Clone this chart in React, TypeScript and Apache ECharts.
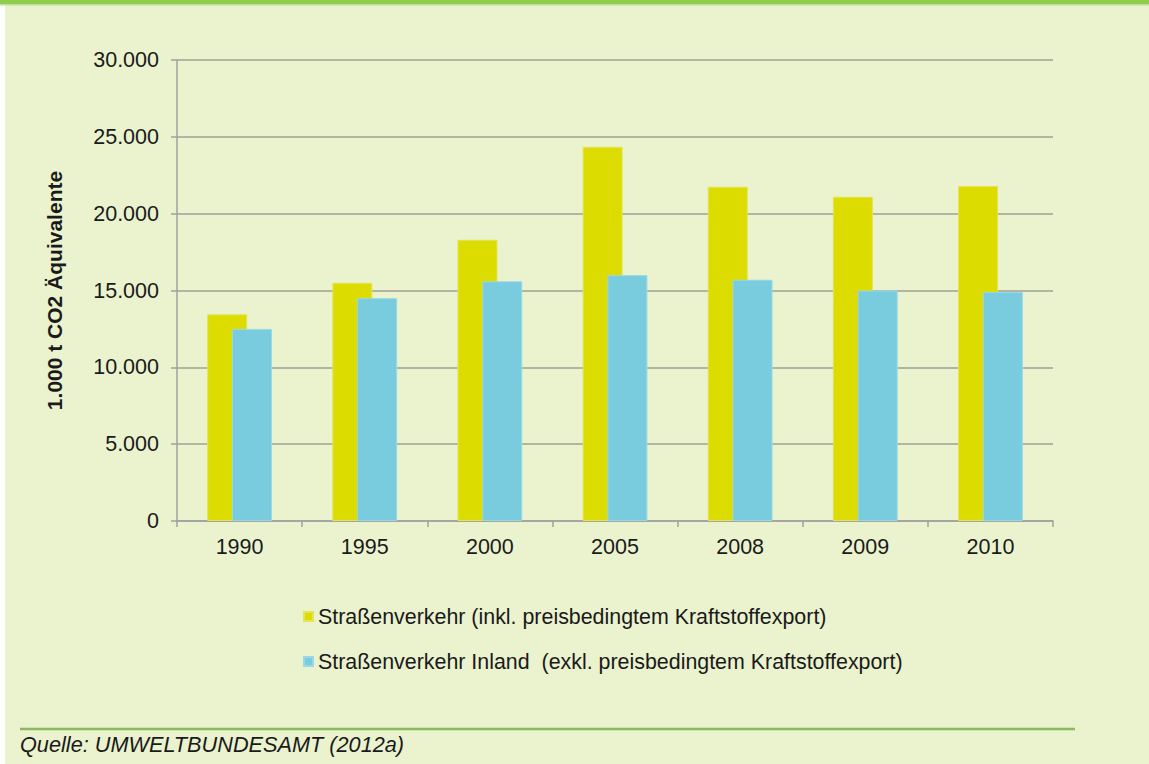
import React, { useEffect, useRef } from "react";
import * as echarts from "echarts";

const categories = ["1990", "1995", "2000", "2005", "2008", "2009", "2010"];
const seriesNames = [
  "Straßenverkehr (inkl. preisbedingtem Kraftstoffexport)",
  "Straßenverkehr Inland  (exkl. preisbedingtem Kraftstoffexport)",
];
const inklExport = [13450, 15500, 18300, 24350, 21750, 21100, 21800];
const inland = [12500, 14500, 15600, 16000, 15700, 15000, 14900];
const yAxisName = "1.000 t CO2 Äquivalente";
const sourceText = "Quelle: UMWELTBUNDESAMT (2012a)";

const FONT = "Liberation Sans, Arial, sans-serif";

function fmt(v: number): string {
  return String(v).replace(/\B(?=(\d{3})+(?!\d))/g, ".");
}

export default function App() {
  const ref = useRef<HTMLDivElement>(null);
  useEffect(() => {
    document.body.style.margin = "0";
    const chart = echarts.init(ref.current!, undefined, { renderer: "svg" });
    chart.setOption({
      animation: false,
      backgroundColor: "#ffffff",
      textStyle: { fontFamily: FONT },
      graphic: [
        { type: "rect", z: -10, shape: { x: 5, y: 0, width: 1144, height: 764 }, style: { fill: "#EAF2CE" } },
        { type: "rect", z: -9, shape: { x: 0, y: 0, width: 1149, height: 4 }, style: { fill: "#8FCD4C" } },
        { type: "rect", z: -9, shape: { x: 0, y: 4, width: 1149, height: 1.5 }, style: { fill: "#BFE09A" } },
        { type: "line", shape: { x1: 20, y1: 729, x2: 1075, y2: 729 }, style: { stroke: "#8DB860", lineWidth: 2.5 } },
        {
          type: "text",
          left: 20,
          top: 733,
          style: { text: sourceText, font: "italic 21.7px " + FONT, fill: "#1a1a1a" },
        },
      ],
      legend: {
        orient: "vertical",
        left: 298,
        top: 601,
        itemWidth: 9,
        itemHeight: 9,
        itemGap: 24,
        icon: "rect",
        textStyle: { fontSize: 21.4, color: "#1a1a1a", fontFamily: FONT },
        data: seriesNames,
      },
      grid: { left: 177, right: 96, top: 60, bottom: 243 },
      xAxis: {
        type: "category",
        data: categories,
        axisLine: { show: true, lineStyle: { color: "#a0a0a0", width: 1.5 } },
        axisTick: { show: true, alignWithLabel: false, length: 6, lineStyle: { color: "#a0a0a0", width: 1.5 } },
        axisLabel: { fontSize: 21.5, color: "#1a1a1a", margin: 15 },
      },
      yAxis: {
        type: "value",
        min: 0,
        max: 30000,
        interval: 5000,
        name: yAxisName,
        nameLocation: "middle",
        nameGap: 112,
        nameTextStyle: { fontSize: 21, fontWeight: "bold", color: "#1a1a1a" },
        axisLine: { show: true, lineStyle: { color: "#a0a0a0", width: 1.5 } },
        axisTick: { show: true, length: 6, lineStyle: { color: "#a0a0a0", width: 1.5 } },
        axisLabel: { fontSize: 21.5, color: "#1a1a1a", margin: 18, formatter: (v: number) => fmt(v) },
        splitLine: { show: true, lineStyle: { color: "#b2b4a4", width: 2 } },
      },
      series: [
        {
          name: seriesNames[0],
          type: "bar",
          data: inklExport,
          barWidth: 40,
          barGap: "-38%",
          itemStyle: { color: "#DCDC00", borderColor: "#E4E45A", borderWidth: 1 },
        },
        {
          name: seriesNames[1],
          type: "bar",
          data: inland,
          barWidth: 40,
          itemStyle: { color: "#78CCDE", borderColor: "#9AD8E6", borderWidth: 1 },
        },
      ],
    });
    return () => chart.dispose();
  }, []);
  return <div ref={ref} style={{ width: 1149, height: 764 }} />;
}
